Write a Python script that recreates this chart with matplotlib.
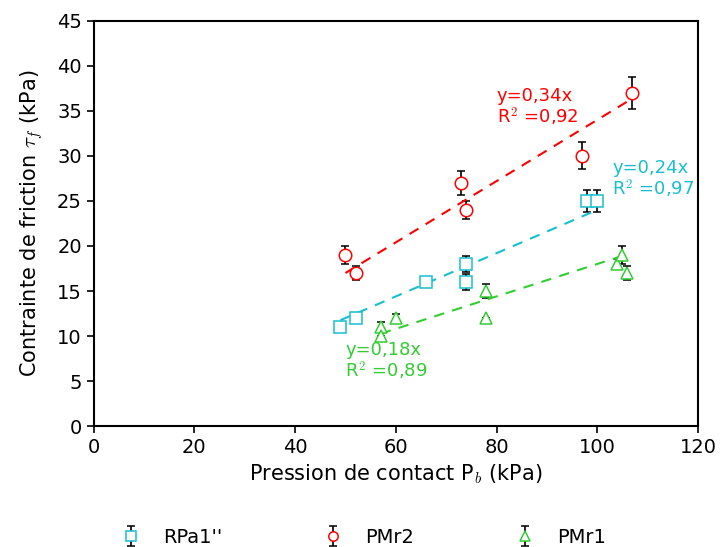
import matplotlib
matplotlib.use("Agg")
from matplotlib import pyplot as plt
import numpy as np

plt.rcParams['mathtext.fontset'] = 'cm'

# RPa1''
x_rpa = [49, 52, 66, 74, 74, 98, 100]
y_rpa = [11, 12, 16, 18, 16, 25, 25]
e_rpa = [0.0, 0.0, 0.5, 0.9, 0.9, 1.2, 1.2]

# PMr2
x_pm2 = [50, 52, 73, 74, 97, 107]
y_pm2 = [19, 17, 27, 24, 30, 37]
e_pm2 = [1.0, 0.8, 1.3, 1.0, 1.5, 1.8]

# PMr1
x_pm1 = [57, 57, 60, 78, 78, 104, 105, 106]
y_pm1 = [11, 10, 12, 15, 12, 18, 19, 17]
e_pm1 = [0.6, 0.0, 0.5, 0.8, 0.0, 0.6, 1.0, 0.8]

slopes = [0.24, 0.34, 0.18]

fig = plt.figure(figsize=(7.21, 5.47), dpi=100)
ax = fig.add_axes([0.130, 0.221, 0.838, 0.741])

series = [
    (x_rpa, y_rpa, e_rpa, 's', '#17bfcf', "RPa1''"),
    (x_pm2, y_pm2, e_pm2, 'o', 'red', 'PMr2'),
    (x_pm1, y_pm1, e_pm1, '^', '#33cc33', 'PMr1'),
]
for (x, y, e, m, c, lab), k in zip(series, slopes):
    ax.errorbar(x, y, yerr=e, fmt=m, mfc='white', mec=c, ms=9, mew=1.1,
                ecolor='black', elinewidth=1.2, capsize=3, capthick=1.2, label=lab)
    xx = np.array([min(x), max(x)])
    ax.plot(xx, k * xx, '--', color=c, lw=1.5, dashes=(5, 4))

ax.text(80, 35.4, "y=0,34x\nR$^2$ =0,92", color='red', fontsize=13, va='center', linespacing=1.0)
ax.text(103, 27.4, "y=0,24x\nR$^2$ =0,97", color='#17bfcf', fontsize=13, va='center', linespacing=1.0)
ax.text(50, 7.2, "y=0,18x\nR$^2$ =0,89", color='#33cc33', fontsize=13, va='center', linespacing=1.0)

ax.set_xlim(0, 120)
ax.set_ylim(0, 45)
ax.set_xticks(range(0, 121, 20))
ax.set_yticks(range(0, 46, 5))
ax.tick_params(labelsize=14, direction='out', top=False, right=False, width=1.2, length=5)
for s in ax.spines.values():
    s.set_linewidth(1.5)
ax.set_xlabel("Pression de contact P$_b$ (kPa)", fontsize=15)
ax.set_ylabel("Contrainte de friction $\\tau_f$ (kPa)", fontsize=15, labelpad=9)

fig.legend(loc='center left', bbox_to_anchor=(0.168, 0.018), ncol=3, frameon=False,
           fontsize=14, columnspacing=5.2, handlelength=1.0, handletextpad=1.15,
           borderpad=0, borderaxespad=0, markerscale=0.75)

fig.savefig("out.png", dpi=100)
